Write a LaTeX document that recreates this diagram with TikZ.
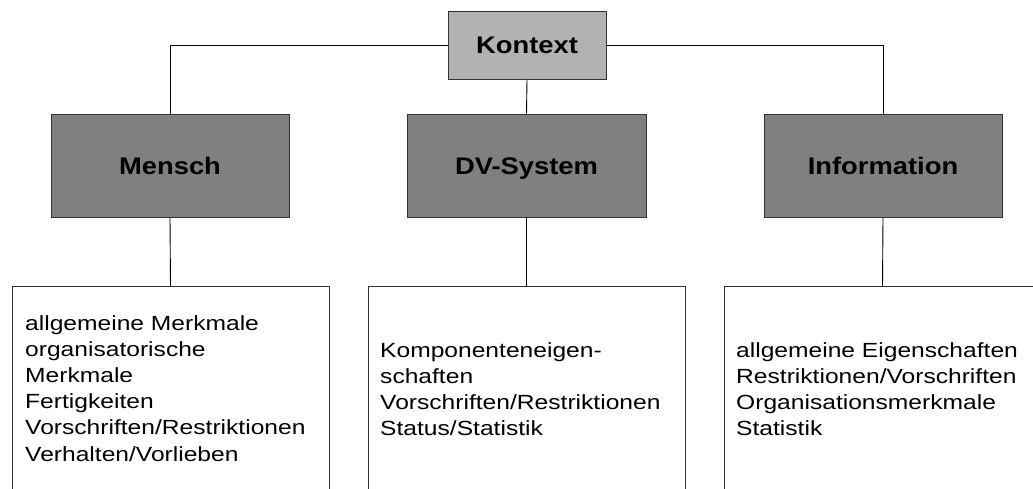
\documentclass[tikz,border=0pt]{standalone}
\usepackage{fontspec}
\setmainfont{Liberation Sans}
\newfontfamily\headfont{Liberation Sans}[FakeStretch=1.14]
\newfontfamily\bodyfont{Liberation Sans}[FakeStretch=1.2]
\begin{document}
\begin{tikzpicture}[x=1pt,y=-1pt,
  basebox/.style={draw=black!80, line width=0.9pt, inner sep=0pt},
  headtext/.style={font=\headfont\bfseries\fontsize{24}{28}\selectfont, text height=17pt, text depth=0pt},
  ctxbox/.style={basebox, headtext, fill=gray!60, minimum width=158pt, minimum height=68pt},
  catbox/.style={basebox, headtext, fill=gray, minimum width=238pt, minimum height=103pt},
  listbox/.style={basebox, fill=white, minimum width=317pt, minimum height=220pt, anchor=north},
  listtext/.style={anchor=base west, inner sep=0pt, font=\bodyfont\fontsize{20.5}{26.2}\selectfont},
  link/.style={draw=black, line width=0.9pt}
]
\useasboundingbox (0,0) rectangle (1033,488);

\node[ctxbox] (ctx) at (527,45) {Kontext};
\node[catbox] (mensch) at (170,165.5) {Mensch};
\node[catbox, minimum width=239pt] (dv) at (526.5,165.5) {DV-System};
\node[catbox] (info) at (883,165.5) {Information};

\node[listbox] (lm) at (170.5,286) {};
\node[listbox] (ld) at (526.5,286) {};
\node[listbox] (li) at (882.5,286) {};

\node[listtext] (tm) at (25,330) {\parbox[t]{300pt}{\raggedright allgemeine Merkmale\\organisatorische\\Merkmale\\Fertigkeiten\\Vorschriften/Restriktionen\\Verhalten/Vorlieben}};
\node[listtext] (td) at (380,357) {\parbox[t]{300pt}{\raggedright Komponenteneigen-\\schaften\\Vorschriften/Restriktionen\\Status/Statistik}};
\node[listtext] (ti) at (736,357) {\parbox[t]{300pt}{\raggedright allgemeine Eigenschaften\\Restriktionen/Vorschriften\\Organisationsmerkmale\\Statistik}};

\draw[link] (ctx.west) -| (mensch.north);
\draw[link] (ctx.east) -| (info.north);
\draw[link] (ctx.south) -- (dv.north);
\draw[link] (mensch.south) -- (lm.north);
\draw[link] (dv.south) -- (ld.north);
\draw[link] (info.south) -- (li.north);
\end{tikzpicture}
\end{document}
